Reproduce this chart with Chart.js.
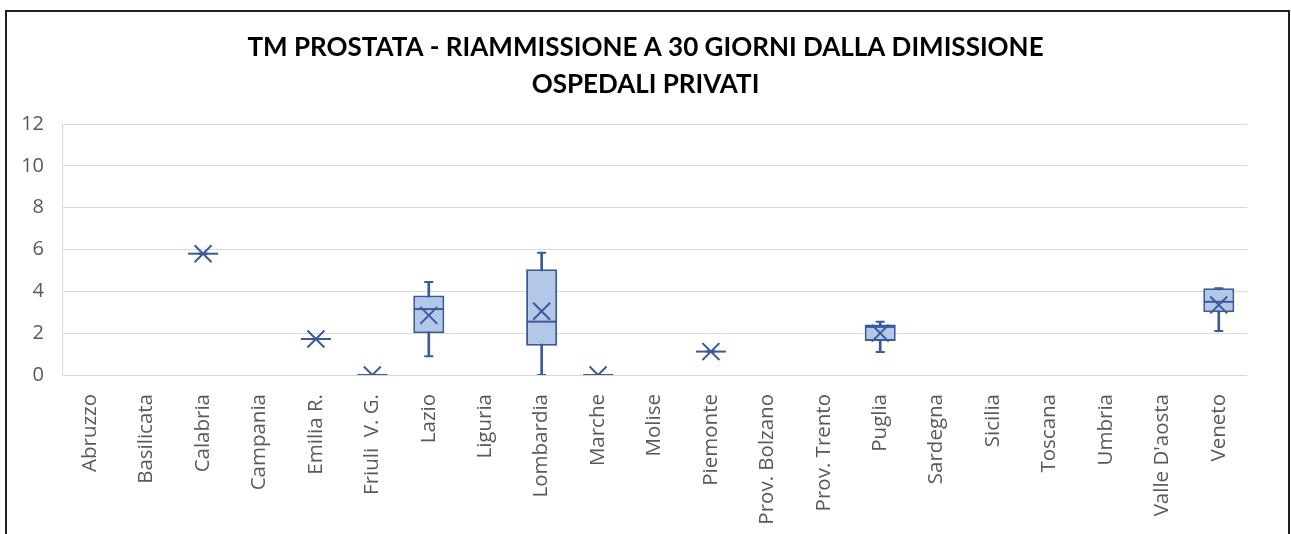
<!DOCTYPE html>
<html>
<head>
<meta charset="utf-8">
<script src="https://cdn.jsdelivr.net/npm/chart.js@4"></script>
<style>
  html, body { margin: 0; padding: 0; background: #fff; overflow: hidden; }
  #wrap { position: relative; width: 1291px; height: 534px; }
  #frame { position: absolute; left: 5px; top: 10px; width: 1285px; height: 600px;
           border: 2px solid #1e1e1e; box-sizing: border-box; pointer-events: none; }
</style>
</head>
<body>
<div id="wrap">
  <canvas id="myChart" width="1291" height="534"></canvas>
  <div id="frame"></div>
</div>
<script>
let regioni = ['Abruzzo', 'Basilicata', 'Calabria', 'Campania', 'Emilia R.', 'Friuli  V. G.',
'Lazio', 'Liguria', 'Lombardia', 'Marche', 'Molise', 'Piemonte', 'Prov. Bolzano',
'Prov. Trento', 'Puglia', 'Sardegna', 'Sicilia', 'Toscana', 'Umbria', "Valle D'aosta", 'Veneto'];

// valori (null = nessun dato)
let minimi  = [null, null, 5.8, null, 1.72, 0, 0.9,  null, 0,    0, null, 1.12, null, null, 1.1,  null, null, null, null, null, 2.1];
let q1      = [null, null, 5.8, null, 1.72, 0, 2.0,  null, 1.4,  0, null, 1.12, null, null, 1.62, null, null, null, null, null, 3.0];
let mediane = [null, null, 5.8, null, 1.72, 0, 3.15, null, 2.55, 0, null, 1.12, null, null, 2.3,  null, null, null, null, null, 3.5];
let q3      = [null, null, 5.8, null, 1.72, 0, 3.8,  null, 5.05, 0, null, 1.12, null, null, 2.42, null, null, null, null, null, 4.15];
let massimi = [null, null, 5.8, null, 1.72, 0, 4.45, null, 5.85, 0, null, 1.12, null, null, 2.55, null, null, null, null, null, 4.15];
let medie   = [null, null, 5.8, null, 1.72, 0, 2.85, null, 3.05, 0, null, 1.12, null, null, 2.0,  null, null, null, null, null, 3.35];

let yTicks = [0, 2, 4, 6, 8, 10, 12];

const BLU = '#3b5a9b';
const AZZURRO = '#b4c7e7';
const GRIGIO = '#595959';

let scatole = q1.map((v, i) => v === null ? null : [v, q3[i]]);
let baffi = minimi.map((v, i) => v === null ? null : [v, massimi[i]]);

let chartElement = document.getElementById('myChart').getContext('2d');

let myChart = new Chart(chartElement, {
    type: 'bar',
    data: {
        labels: regioni,
        datasets: [
            {   // media
                type: 'line', data: medie, showLine: false, order: 0,
                pointStyle: 'crossRot', pointRadius: 12, borderWidth: 2,
                borderColor: BLU, backgroundColor: BLU
            },
            {   // mediana
                type: 'line', data: mediane, showLine: false, order: 1,
                pointStyle: 'line', pointRadius: 15, borderWidth: 2,
                borderColor: BLU, backgroundColor: BLU
            },
            {   // cappelli
                type: 'line', data: minimi, showLine: false, order: 2,
                pointStyle: 'line', pointRadius: 4.5, borderWidth: 2,
                borderColor: BLU
            },
            {
                type: 'line', data: massimi, showLine: false, order: 2,
                pointStyle: 'line', pointRadius: 4.5, borderWidth: 2,
                borderColor: BLU
            },
            {   // scatola
                data: scatole, order: 3, grouped: false,
                backgroundColor: AZZURRO, borderColor: BLU, borderWidth: 2,
                borderSkipped: false, barPercentage: 0.55, categoryPercentage: 1
            },
            {   // baffi
                data: baffi, order: 4, grouped: false,
                backgroundColor: BLU, borderWidth: 0, barThickness: 2
            }
        ]
    },
    options: {
        responsive: false,
        animation: false,
        layout: { padding: 0 },
        plugins: {
            legend: { display: false },
            tooltip: { enabled: false },
            title: {
                display: true,
                text: ['TM PROSTATA - RIAMMISSIONE A 30 GIORNI DALLA DIMISSIONE', 'OSPEDALI PRIVATI'],
                color: '#000',
                font: { family: 'Lato', weight: 'bold', size: 26, lineHeight: 37 / 26 },
                padding: { top: 29, bottom: 21 }
            }
        },
        scales: {
            x: {
                grid: { display: false },
                border: { display: false },
                ticks: {
                    color: GRIGIO, font: { family: 'Open Sans', size: 20.5 },
                    minRotation: 90, maxRotation: 90, autoSkip: false, padding: 11
                },
                afterFit: function(scale) { scale.height = 159; }
            },
            y: {
                min: 0, max: 12,
                afterBuildTicks: function(scale) { scale.ticks = yTicks.map(v => ({ value: v })); },
                grid: { color: '#d9d9d9', lineWidth: 1, drawTicks: false },
                border: { display: true, color: '#d9d9d9' },
                ticks: { color: GRIGIO, font: { family: 'Open Sans', size: 20 }, padding: 18 },
                afterFit: function(scale) { scale.width = 62; }
            },
            margineDestro: {
                position: 'right', min: 0, max: 12,
                grid: { display: false },
                border: { display: false },
                ticks: { display: false },
                afterFit: function(scale) { scale.width = 44; }
            }
        }
    }
});
</script>
</body>
</html>
